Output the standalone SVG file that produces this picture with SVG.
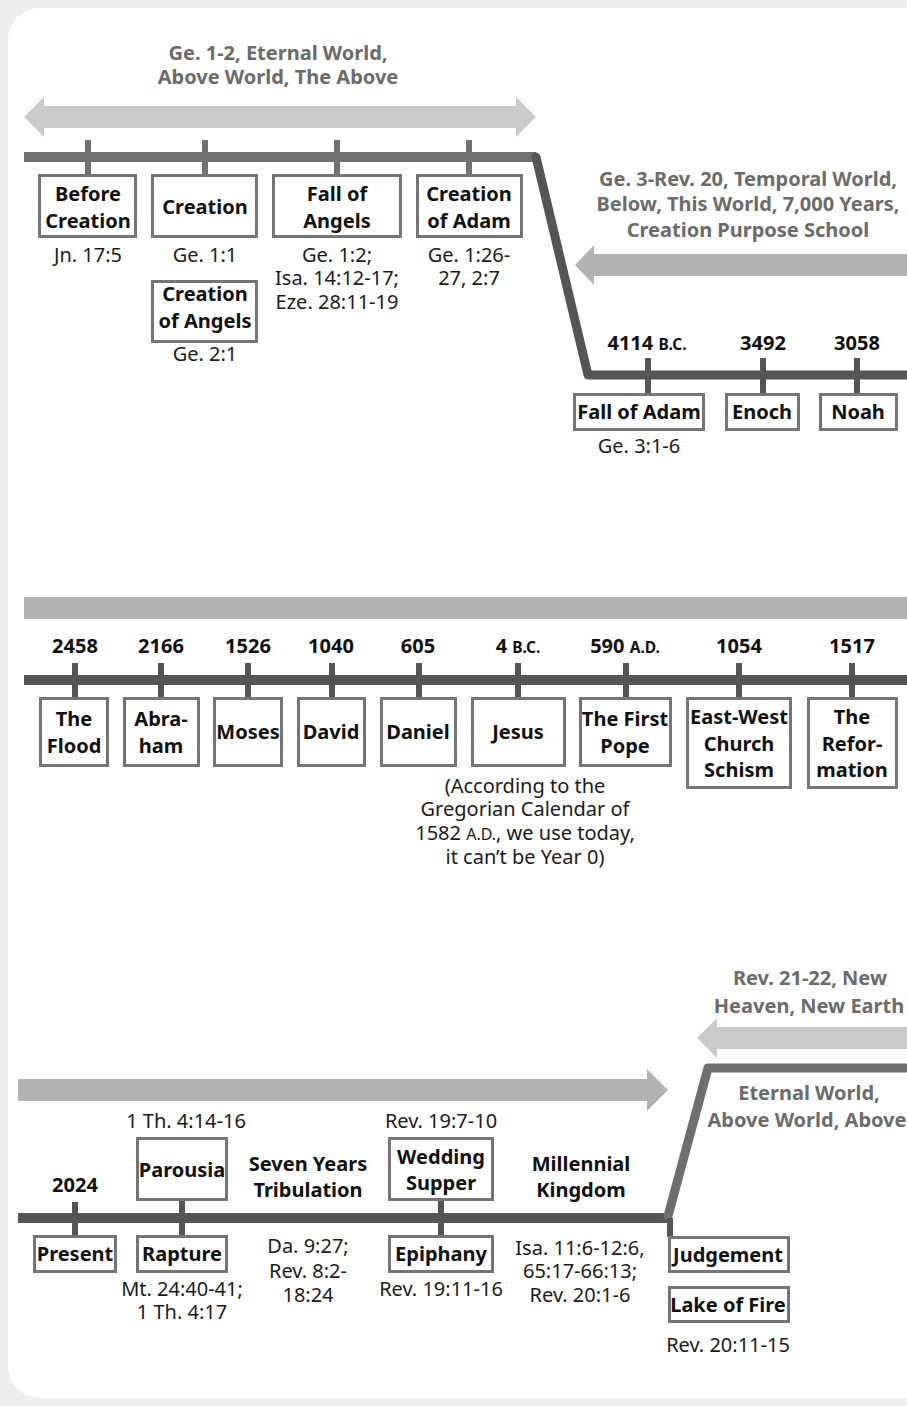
<svg xmlns="http://www.w3.org/2000/svg" width="907" height="1406" viewBox="0 0 907 1406">
  <style>
    text { font-family: "Noto Sans", "Open Sans", "Liberation Sans", sans-serif; text-anchor: middle; }
    .lbl { font-size: 20px; font-weight: 700; fill: #111; }
    .ref { font-size: 20px; font-weight: 400; fill: #1a1a1a; }
    .date { font-size: 20px; font-weight: 700; fill: #111; }
    .era { font-size: 20px; font-weight: 700; fill: #6b6b6b; }
    .sm { font-size: 15.5px; }
    .smr { font-size: 16px; }
    .box { fill: #fff; stroke: #757575; stroke-width: 3; }
    .tick { fill: #555; }
    .tick-lt { fill: #707070; }
    .span-lt { fill: #c8c9c8; }
    .span-dk { fill: #b3b3b3; }
  </style>

  <!-- page and card -->
  <rect x="0" y="0" width="907" height="1406" fill="#ededed"/>
  <rect x="8" y="8" width="940" height="1390" rx="32" ry="32" fill="#fff"/>

  <!-- era spans -->
  <g id="spans">
    <polygon class="span-lt" points="24,117 44,97 44,106 516,106 516,97 536,117 516,137 516,128 44,128 44,137"/>
    <polygon class="span-dk" points="575,265 594,245 594,254 910,254 910,276 594,276 594,285"/>
    <rect class="span-dk" x="24" y="597" width="890" height="22"/>
    <polygon class="span-lt" points="697,1038 717,1018 717,1027 910,1027 910,1049 717,1049 717,1058"/>
    <polygon class="span-dk" points="18,1079 647,1079 647,1069 668,1090 647,1111 647,1101 18,1101"/>
  </g>

  <!-- timelines -->
  <g id="timelines" fill="none">
    <line x1="24" y1="157" x2="536" y2="157" stroke="#707070" stroke-width="10"/>
    <path d="M536 157 L588 375 L912 375" stroke="#555" stroke-width="9" stroke-linejoin="round" stroke-linecap="round"/>
    <line x1="24" y1="680" x2="912" y2="680" stroke="#555" stroke-width="10"/>
    <line x1="18" y1="1218" x2="668" y2="1218" stroke="#555" stroke-width="10"/>
    <path d="M668 1216 L708 1068 L912 1068" stroke="#6e6e6e" stroke-width="9" stroke-linejoin="round" stroke-linecap="round"/>
  </g>

  <!-- connectors: ticks from timeline to events -->
  <g id="connectors">
    <rect class="tick-lt" x="85" y="140" width="6" height="35"/>
    <rect class="tick-lt" x="202" y="140" width="6" height="35"/>
    <rect class="tick-lt" x="334" y="140" width="6" height="35"/>
    <rect class="tick-lt" x="466" y="140" width="6" height="35"/>

    <rect class="tick" x="645" y="358" width="6" height="36"/>
    <rect class="tick" x="760" y="358" width="6" height="36"/>
    <rect class="tick" x="854" y="358" width="6" height="36"/>

    <rect class="tick" x="72" y="663" width="6" height="35"/>
    <rect class="tick" x="158" y="663" width="6" height="35"/>
    <rect class="tick" x="245" y="663" width="6" height="35"/>
    <rect class="tick" x="329" y="663" width="6" height="35"/>
    <rect class="tick" x="416" y="663" width="6" height="35"/>
    <rect class="tick" x="515" y="663" width="6" height="35"/>
    <rect class="tick" x="623" y="663" width="6" height="35"/>
    <rect class="tick" x="736" y="663" width="6" height="35"/>
    <rect class="tick" x="849" y="663" width="6" height="35"/>

    <rect class="tick" x="72" y="1202" width="6" height="34"/>
    <rect class="tick" x="179" y="1200" width="6" height="36"/>
    <rect class="tick" x="438" y="1200" width="6" height="36"/>
    <rect class="tick" x="667" y="1218" width="6" height="19"/>
  </g>

  <!-- era captions -->
  <g id="era-eternal-before">
    <text class="era" x="278" y="60">Ge. 1-2, Eternal World,</text>
    <text class="era" x="278" y="84">Above World, The Above</text>
  </g>
  <g id="era-temporal">
    <text class="era" x="748" y="186">Ge. 3-Rev. 20, Temporal World,</text>
    <text class="era" x="748" y="211">Below, This World, 7,000 Years,</text>
    <text class="era" x="748" y="237">Creation Purpose School</text>
  </g>
  <g id="era-new">
    <text class="era" x="810" y="985">Rev. 21-22, New</text>
    <text class="era" x="809" y="1013">Heaven, New Earth</text>
  </g>
  <g id="era-eternal-after">
    <text class="era" x="809" y="1100">Eternal World,</text>
    <text class="era" x="807" y="1127">Above World, Above</text>
  </g>

  <!-- before time -->
  <g id="before-creation">
    <rect class="box" x="39.5" y="175.5" width="96" height="61"/>
    <text class="lbl" x="88" y="201">Before</text>
    <text class="lbl" x="88" y="228">Creation</text>
    <text class="ref" x="88" y="262">Jn. 17:5</text>
  </g>
  <g id="creation">
    <rect class="box" x="152.5" y="175.5" width="104" height="61"/>
    <text class="lbl" x="205" y="214">Creation</text>
    <text class="ref" x="205" y="262">Ge. 1:1</text>
  </g>
  <g id="creation-of-angels">
    <rect class="box" x="152.5" y="281.5" width="104" height="60"/>
    <text class="lbl" x="205" y="301">Creation</text>
    <text class="lbl" x="205" y="328">of Angels</text>
    <text class="ref" x="205" y="361">Ge. 2:1</text>
  </g>
  <g id="fall-of-angels">
    <rect class="box" x="273.5" y="175.5" width="127" height="61"/>
    <text class="lbl" x="337" y="201">Fall of</text>
    <text class="lbl" x="337" y="228">Angels</text>
    <text class="ref" x="337" y="262">Ge. 1:2;</text>
    <text class="ref" x="337" y="285">Isa. 14:12-17;</text>
    <text class="ref" x="337" y="309">Eze. 28:11-19</text>
  </g>
  <g id="creation-of-adam">
    <rect class="box" x="417.5" y="175.5" width="104" height="61"/>
    <text class="lbl" x="469" y="201">Creation</text>
    <text class="lbl" x="469" y="228">of Adam</text>
    <text class="ref" x="469" y="262">Ge. 1:26-</text>
    <text class="ref" x="469" y="285">27, 2:7</text>
  </g>

  <!-- temporal world, row 1 -->
  <g id="fall-of-adam">
    <text class="date" x="647" y="350">4114 <tspan class="sm">B.C.</tspan></text>
    <rect class="box" x="574.5" y="394.5" width="129" height="35"/>
    <text class="lbl" x="639" y="419">Fall of Adam</text>
    <text class="ref" x="639" y="453">Ge. 3:1-6</text>
  </g>
  <g id="enoch">
    <text class="date" x="763" y="350">3492</text>
    <rect class="box" x="726.5" y="394.5" width="72" height="35"/>
    <text class="lbl" x="762" y="419">Enoch</text>
  </g>
  <g id="noah">
    <text class="date" x="857" y="350">3058</text>
    <rect class="box" x="820.5" y="394.5" width="76" height="35"/>
    <text class="lbl" x="858" y="419">Noah</text>
  </g>

  <!-- temporal world, row 2 -->
  <g id="the-flood">
    <text class="date" x="75" y="653">2458</text>
    <rect class="box" x="40.5" y="698.5" width="67" height="67"/>
    <text class="lbl" x="74" y="726">The</text>
    <text class="lbl" x="74" y="753">Flood</text>
  </g>
  <g id="abraham">
    <text class="date" x="161" y="653">2166</text>
    <rect class="box" x="124.5" y="698.5" width="74" height="67"/>
    <text class="lbl" x="161" y="726">Abra-</text>
    <text class="lbl" x="161" y="753">ham</text>
  </g>
  <g id="moses">
    <text class="date" x="248" y="653">1526</text>
    <rect class="box" x="214.5" y="698.5" width="67" height="67"/>
    <text class="lbl" x="248" y="739">Moses</text>
  </g>
  <g id="david">
    <text class="date" x="331" y="653">1040</text>
    <rect class="box" x="298.5" y="698.5" width="66" height="67"/>
    <text class="lbl" x="331" y="739">David</text>
  </g>
  <g id="daniel">
    <text class="date" x="418" y="653">605</text>
    <rect class="box" x="381.5" y="698.5" width="74" height="67"/>
    <text class="lbl" x="418" y="739">Daniel</text>
  </g>
  <g id="jesus">
    <text class="date" x="518" y="653">4 <tspan class="sm">B.C.</tspan></text>
    <rect class="box" x="472.5" y="698.5" width="92" height="67"/>
    <text class="lbl" x="518" y="739">Jesus</text>
    <text class="ref" x="525" y="793">(According to the</text>
    <text class="ref" x="525" y="816">Gregorian Calendar of</text>
    <text class="ref" x="525" y="840">1582 <tspan class="smr">A.D.</tspan>, we use today,</text>
    <text class="ref" x="525" y="864">it can’t be Year 0)</text>
  </g>
  <g id="first-pope">
    <text class="date" x="625" y="653">590 <tspan class="sm">A.D.</tspan></text>
    <rect class="box" x="580.5" y="698.5" width="90" height="67"/>
    <text class="lbl" x="625" y="726">The First</text>
    <text class="lbl" x="625" y="753">Pope</text>
  </g>
  <g id="east-west-schism">
    <text class="date" x="739" y="653">1054</text>
    <rect class="box" x="687.5" y="698.5" width="103" height="89"/>
    <text class="lbl" x="739" y="724">East-West</text>
    <text class="lbl" x="739" y="751">Church</text>
    <text class="lbl" x="739" y="777">Schism</text>
  </g>
  <g id="reformation">
    <text class="date" x="852" y="653">1517</text>
    <rect class="box" x="808.5" y="698.5" width="88" height="89"/>
    <text class="lbl" x="852" y="724">The</text>
    <text class="lbl" x="852" y="751">Refor-</text>
    <text class="lbl" x="852" y="777">mation</text>
  </g>

  <!-- temporal world, row 3 -->
  <g id="present">
    <text class="date" x="75" y="1192">2024</text>
    <rect class="box" x="34.5" y="1236.5" width="81" height="35"/>
    <text class="lbl" x="75" y="1261">Present</text>
  </g>
  <g id="parousia">
    <text class="ref" x="186" y="1128">1 Th. 4:14-16</text>
    <rect class="box" x="137.5" y="1138.5" width="89" height="61"/>
    <text class="lbl" x="182" y="1177">Parousia</text>
  </g>
  <g id="rapture">
    <rect class="box" x="137.5" y="1236.5" width="89" height="35"/>
    <text class="lbl" x="182" y="1261">Rapture</text>
    <text class="ref" x="182" y="1296">Mt. 24:40-41;</text>
    <text class="ref" x="182" y="1319">1 Th. 4:17</text>
  </g>
  <g id="tribulation">
    <text class="lbl" x="308" y="1171">Seven Years</text>
    <text class="lbl" x="308" y="1197">Tribulation</text>
    <text class="ref" x="308" y="1253">Da. 9:27;</text>
    <text class="ref" x="308" y="1278">Rev. 8:2-</text>
    <text class="ref" x="308" y="1302">18:24</text>
  </g>
  <g id="wedding-supper">
    <text class="ref" x="441" y="1128">Rev. 19:7-10</text>
    <rect class="box" x="389.5" y="1138.5" width="103" height="61"/>
    <text class="lbl" x="441" y="1164">Wedding</text>
    <text class="lbl" x="441" y="1190">Supper</text>
  </g>
  <g id="epiphany">
    <rect class="box" x="389.5" y="1236.5" width="103" height="35"/>
    <text class="lbl" x="441" y="1261">Epiphany</text>
    <text class="ref" x="441" y="1296">Rev. 19:11-16</text>
  </g>
  <g id="millennial-kingdom">
    <text class="lbl" x="581" y="1171">Millennial</text>
    <text class="lbl" x="581" y="1197">Kingdom</text>
    <text class="ref" x="580" y="1255">Isa. 11:6-12:6,</text>
    <text class="ref" x="580" y="1278">65:17-66:13;</text>
    <text class="ref" x="580" y="1302">Rev. 20:1-6</text>
  </g>
  <g id="judgement">
    <rect class="box" x="669.5" y="1237.5" width="119" height="34"/>
    <text class="lbl" x="728" y="1262">Judgement</text>
  </g>
  <g id="lake-of-fire">
    <rect class="box" x="669.5" y="1287.5" width="119" height="34"/>
    <text class="lbl" x="728" y="1312">Lake of Fire</text>
    <text class="ref" x="728" y="1352">Rev. 20:11-15</text>
  </g>
</svg>
